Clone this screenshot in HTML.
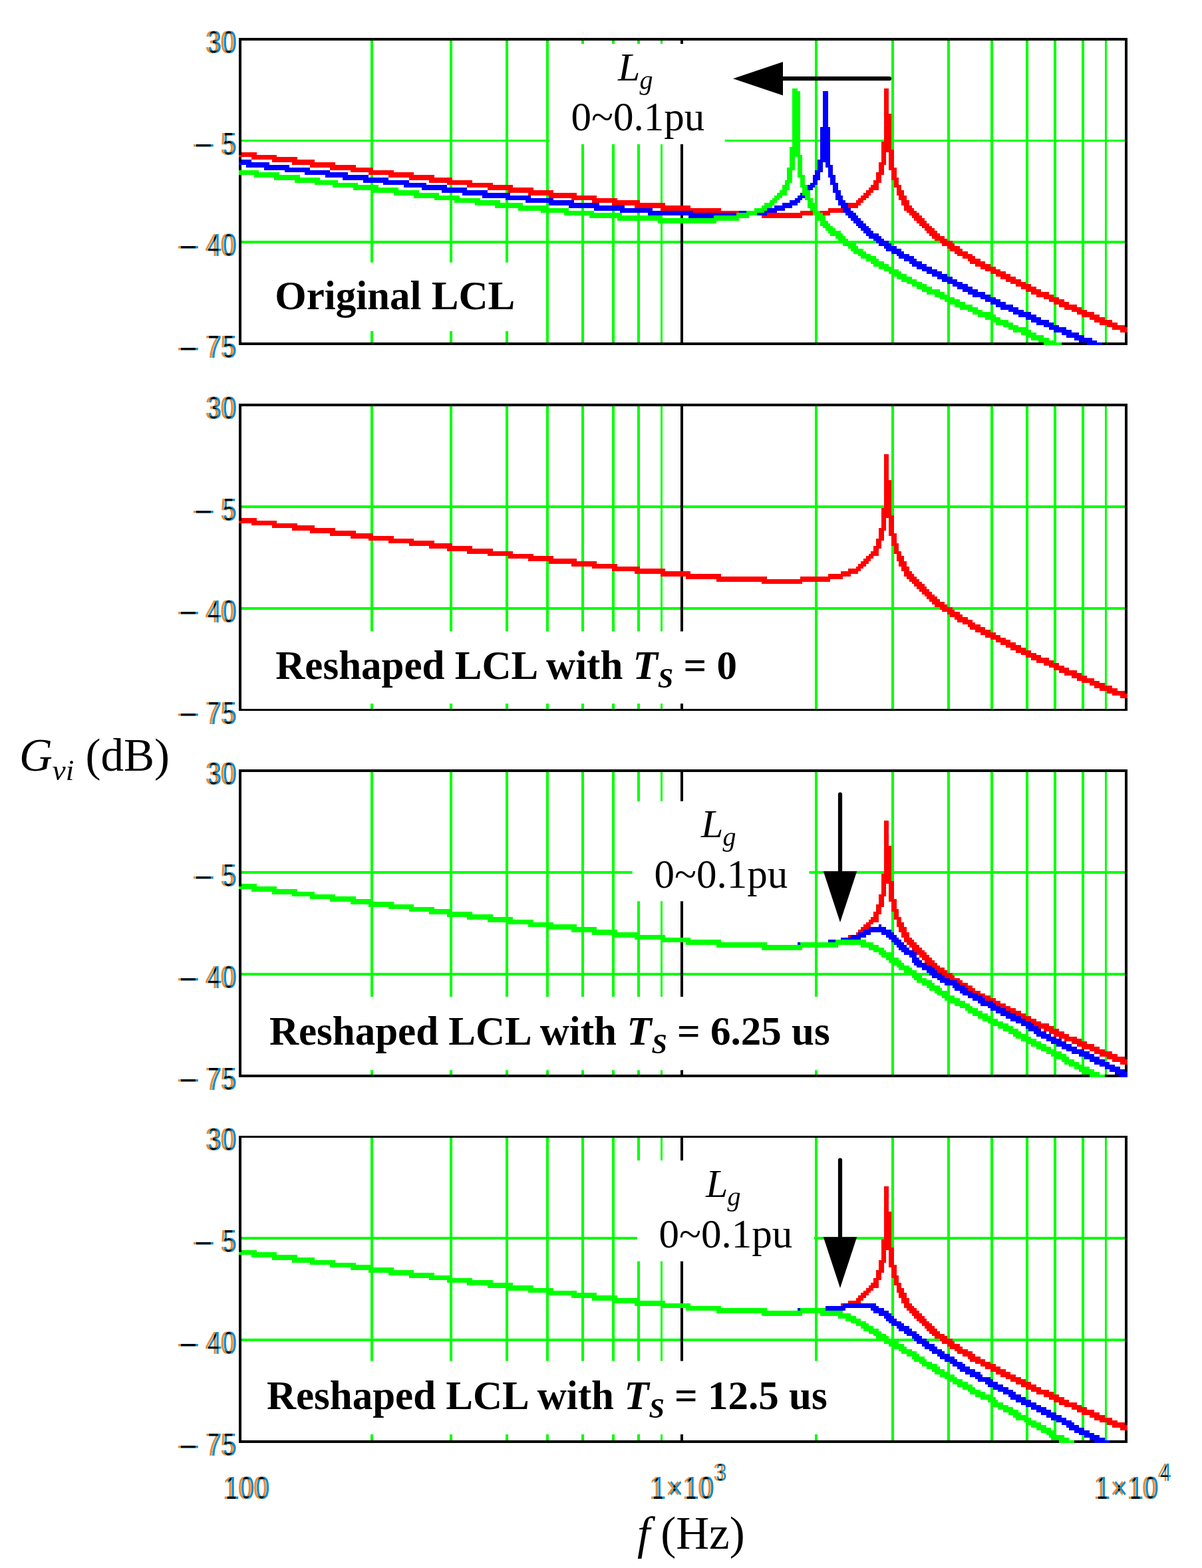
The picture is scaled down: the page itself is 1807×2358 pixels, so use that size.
<!DOCTYPE html>
<html lang="en"><head><meta charset="utf-8"><title>Gvi Bode magnitude plots</title><style>html,body{margin:0;padding:0;background:#fff}svg{display:block}</style></head><body><svg width="1807" height="2358" viewBox="0 0 1807 2358"><rect width="1807" height="2358" fill="#fff"/><defs><filter id="ct" x="-30%" y="-30%" width="160%" height="160%" color-interpolation-filters="sRGB"><feOffset in="SourceAlpha" dx="-2.5" result="a"/><feFlood flood-color="#f08c2c"/><feComposite operator="in" in2="a" result="oa"/><feOffset in="SourceAlpha" dx="2.5" result="b"/><feFlood flood-color="#008ee0"/><feComposite operator="in" in2="b" result="ob"/><feComposite operator="in" in="a" in2="b" result="k"/><feMerge><feMergeNode in="oa"/><feMergeNode in="ob"/><feMergeNode in="k"/></feMerge></filter><filter id="ctm" x="-30%" y="-30%" width="160%" height="160%" color-interpolation-filters="sRGB"><feOffset in="SourceAlpha" dx="-1.8" result="a"/><feFlood flood-color="#f08c2c"/><feComposite operator="in" in2="a" result="oa"/><feOffset in="SourceAlpha" dx="1.8" result="b"/><feFlood flood-color="#008ee0"/><feComposite operator="in" in2="b" result="ob"/><feComposite operator="in" in="a" in2="b" result="k"/><feMerge><feMergeNode in="oa"/><feMergeNode in="ob"/><feMergeNode in="k"/></feMerge></filter></defs><g shape-rendering="crispEdges">
<rect x="557" y="61" width="4" height="454" fill="#00ff00"/>
<rect x="676" y="61" width="4" height="454" fill="#00ff00"/>
<rect x="760" y="61" width="4" height="454" fill="#00ff00"/>
<rect x="821" y="61" width="4" height="454" fill="#00ff00"/>
<rect x="874" y="61" width="4" height="454" fill="#00ff00"/>
<rect x="920" y="61" width="4" height="454" fill="#00ff00"/>
<rect x="958" y="61" width="4" height="454" fill="#00ff00"/>
<rect x="993" y="61" width="3" height="454" fill="#00ff00"/>
<rect x="1023" y="61" width="4" height="454" fill="#000000"/>
<rect x="1225" y="61" width="4" height="454" fill="#00ff00"/>
<rect x="1340" y="61" width="4" height="454" fill="#00ff00"/>
<rect x="1424" y="61" width="4" height="454" fill="#00ff00"/>
<rect x="1489" y="61" width="4" height="454" fill="#00ff00"/>
<rect x="1542" y="61" width="4" height="454" fill="#00ff00"/>
<rect x="1584" y="61" width="4" height="454" fill="#00ff00"/>
<rect x="1626" y="61" width="4" height="454" fill="#00ff00"/>
<rect x="1661" y="61" width="3" height="454" fill="#00ff00"/>
<rect x="363" y="210" width="1328" height="3" fill="#00ff00"/>
<rect x="363" y="362" width="1328" height="4" fill="#00ff00"/>
<rect x="1023" y="61" width="4" height="454" fill="#000000"/>
<rect x="359" y="57" width="1336" height="4" fill="#000000"/>
<rect x="359" y="515" width="1336" height="4" fill="#000000"/>
<rect x="359" y="57" width="4" height="462" fill="#000000"/>
<rect x="1691" y="57" width="4" height="462" fill="#000000"/>
<path fill="#ff0000" d="M359 233h57v3h-57zM363 229h23v4h-23zM378 236h69v4h-69zM409 240h64v4h-64zM439 244h65v4h-65zM466 248h69v4h-69zM496 252h65v4h-65zM527 256h65v3h-65zM554 259h68v4h-68zM584 263h69v4h-69zM615 267h65v4h-65zM645 271h65v4h-65zM672 275h69v3h-69zM702 278h69v4h-69zM733 282h69v4h-69zM764 286h68v4h-68zM794 290h73v4h-73zM825 294h72v4h-72zM859 298h69v3h-69zM890 301h72v4h-72zM920 305h80v4h-80zM954 309h84v4h-84zM993 313h91v4h-91zM1031 317h122v3h-122zM1077 320h171v4h-171zM1145 324h61v4h-61zM1203 317h64v3h-64zM1245 313h34v4h-34zM1264 309h26v4h-26zM1275 305h19v4h-19zM1287 301h11v4h-11zM1290 298h12v3h-12zM1294 294h12v4h-12zM1298 290h11v4h-11zM1302 286h11v4h-11zM1306 282h15v4h-15zM1309 278h12v4h-12zM1313 275h8v3h-8zM1313 271h12v4h-12zM1317 263h8v8h-8zM1317 259h12v4h-12zM1321 248h8v11h-8zM1321 244h11v4h-11zM1325 229h7v15h-7zM1325 213h15v12h-15zM1325 225h19v4h-19zM1329 133h7v38h-7zM1329 171h11v42h-11zM1336 229h8v23h-8zM1336 252h12v4h-12zM1340 256h8v11h-8zM1340 267h11v4h-11zM1344 271h7v7h-7zM1344 278h11v4h-11zM1348 282h7v4h-7zM1348 286h11v8h-11zM1351 294h12v7h-12zM1355 301h12v8h-12zM1359 309h12v4h-12zM1359 313h15v4h-15zM1363 317h15v3h-15zM1367 320h15v4h-15zM1371 324h15v4h-15zM1374 328h16v4h-16zM1378 332h15v4h-15zM1382 336h15v4h-15zM1386 340h15v3h-15zM1390 343h15v4h-15zM1393 347h16v4h-16zM1397 351h16v4h-16zM1401 355h19v4h-19zM1405 359h19v3h-19zM1413 362h19v4h-19zM1416 366h19v4h-19zM1424 370h19v4h-19zM1428 374h19v4h-19zM1435 378h20v4h-20zM1439 382h23v3h-23zM1447 385h19v4h-19zM1455 389h19v4h-19zM1458 393h23v4h-23zM1466 397h23v4h-23zM1474 401h23v4h-23zM1481 405h23v3h-23zM1489 408h23v4h-23zM1497 412h22v4h-22zM1504 416h23v4h-23zM1512 420h23v4h-23zM1519 424h23v3h-23zM1527 427h23v4h-23zM1535 431h23v4h-23zM1542 435h23v4h-23zM1550 439h27v4h-27zM1558 443h26v4h-26zM1569 447h23v3h-23zM1577 450h23v4h-23zM1584 454h23v4h-23zM1592 458h27v4h-27zM1600 462h26v4h-26zM1611 466h23v3h-23zM1619 469h26v4h-26zM1626 473h27v4h-27zM1638 477h23v4h-23zM1645 481h27v4h-27zM1653 485h27v4h-27zM1664 489h27v3h-27zM1672 492h23v4h-23zM1684 496h11v4h-11z"/>
<path fill="#0000ff" d="M359 244h46v4h-46zM363 240h15v4h-15zM370 248h65v4h-65zM397 252h69v4h-69zM428 256h68v3h-68zM458 259h65v4h-65zM489 263h65v4h-65zM515 267h69v4h-69zM546 271h69v4h-69zM576 275h65v3h-65zM607 278h65v4h-65zM634 282h68v4h-68zM664 286h69v4h-69zM695 290h72v4h-72zM725 294h73v4h-73zM760 298h72v3h-72zM790 301h73v4h-73zM825 305h76v4h-76zM855 309h84v4h-84zM893 313h88v4h-88zM932 317h110v3h-110zM974 320h179v4h-179zM1035 324h80v4h-80zM1111 317h57v3h-57zM1149 313h31v4h-31zM1164 309h27v4h-27zM1176 305h23v4h-23zM1187 301h16v4h-16zM1195 298h11v3h-11zM1199 294h19v4h-19zM1203 290h15v4h-15zM1210 286h8v4h-8zM1210 282h12v4h-12zM1214 278h11v4h-11zM1218 275h11v3h-11zM1222 271h7v4h-7zM1222 263h11v8h-11zM1225 259h8v4h-8zM1225 256h12v3h-12zM1229 244h8v12h-8zM1229 240h19v4h-19zM1233 191h15v49h-15zM1237 137h8v54h-8zM1241 244h7v4h-7zM1241 248h11v4h-11zM1245 252h7v11h-7zM1245 263h11v4h-11zM1248 267h8v8h-8zM1248 275h12v3h-12zM1252 278h8v8h-8zM1252 286h12v4h-12zM1256 290h8v4h-8zM1256 294h11v7h-11zM1260 301h11v4h-11zM1260 305h15v4h-15zM1264 309h11v4h-11zM1267 313h12v4h-12zM1267 317h16v3h-16zM1271 320h16v4h-16zM1275 324h15v4h-15zM1279 328h15v4h-15zM1283 332h15v4h-15zM1287 336h15v4h-15zM1290 340h16v3h-16zM1294 343h15v4h-15zM1298 347h15v4h-15zM1302 351h19v4h-19zM1306 355h19v4h-19zM1313 359h16v3h-16zM1317 362h19v4h-19zM1321 366h19v4h-19zM1329 370h19v4h-19zM1332 374h23v4h-23zM1340 378h19v4h-19zM1348 382h19v3h-19zM1351 385h23v4h-23zM1359 389h19v4h-19zM1367 393h19v4h-19zM1371 397h22v4h-22zM1378 401h23v4h-23zM1386 405h23v3h-23zM1393 408h23v4h-23zM1401 412h23v4h-23zM1409 416h23v4h-23zM1416 420h23v4h-23zM1424 424h23v3h-23zM1432 427h23v4h-23zM1439 431h23v4h-23zM1447 435h23v4h-23zM1455 439h26v4h-26zM1462 443h27v4h-27zM1474 447h23v3h-23zM1481 450h23v4h-23zM1489 454h23v4h-23zM1497 458h26v4h-26zM1504 462h27v4h-27zM1516 466h23v3h-23zM1523 469h27v4h-27zM1531 473h27v4h-27zM1542 477h23v4h-23zM1550 481h27v4h-27zM1558 485h26v4h-26zM1569 489h23v3h-23zM1577 492h26v4h-26zM1584 496h27v4h-27zM1596 500h26v4h-26zM1603 504h27v4h-27zM1615 508h27v4h-27zM1622 512h27v3h-27zM1634 515h23v4h-23z"/>
<path fill="#00ff00" d="M359 256h30v3h-30zM359 259h61v4h-61zM382 263h69v4h-69zM412 267h69v4h-69zM443 271h65v4h-65zM473 275h65v3h-65zM500 278h69v4h-69zM531 282h68v4h-68zM561 286h69v4h-69zM592 290h68v4h-68zM622 294h69v4h-69zM653 298h69v3h-69zM683 301h69v4h-69zM714 305h72v4h-72zM744 309h77v4h-77zM779 313h76v4h-76zM813 317h80v3h-80zM848 320h87v4h-87zM886 324h110v4h-110zM928 328h183v4h-183zM989 332h88v4h-88zM1073 324h53v4h-53zM1107 320h31v4h-31zM1122 317h27v3h-27zM1134 313h19v4h-19zM1145 309h16v4h-16zM1149 305h15v4h-15zM1157 301h11v4h-11zM1161 298h11v3h-11zM1164 294h12v4h-12zM1168 290h15v4h-15zM1172 286h11v4h-11zM1176 278h11v8h-11zM1180 275h7v3h-7zM1180 271h11v4h-11zM1183 256h8v15h-8zM1183 252h12v4h-12zM1187 236h8v16h-8zM1187 221h16v12h-16zM1187 233h19v3h-19zM1191 133h8v4h-8zM1191 137h12v84h-12zM1199 236h7v27h-7zM1199 263h11v4h-11zM1203 267h7v11h-7zM1203 278h11v4h-11zM1206 282h8v4h-8zM1206 286h12v8h-12zM1210 294h8v4h-8zM1210 298h12v3h-12zM1214 301h8v4h-8zM1214 305h11v4h-11zM1214 309h15v4h-15zM1218 313h11v4h-11zM1222 317h11v3h-11zM1222 320h15v4h-15zM1225 324h16v4h-16zM1229 328h12v4h-12zM1233 332h12v4h-12zM1233 336h15v4h-15zM1237 340h15v3h-15zM1241 343h15v4h-15zM1245 347h19v4h-19zM1248 351h19v4h-19zM1256 355h15v4h-15zM1260 359h15v3h-15zM1264 362h19v4h-19zM1267 366h20v4h-20zM1275 370h15v4h-15zM1279 374h19v4h-19zM1283 378h19v4h-19zM1290 382h19v3h-19zM1294 385h23v4h-23zM1302 389h19v4h-19zM1309 393h20v4h-20zM1313 397h23v4h-23zM1321 401h23v4h-23zM1329 405h22v3h-22zM1336 408h19v4h-19zM1344 412h19v4h-19zM1348 416h23v4h-23zM1355 420h23v4h-23zM1363 424h23v3h-23zM1371 427h22v4h-22zM1378 431h23v4h-23zM1386 435h27v4h-27zM1393 439h27v4h-27zM1405 443h23v4h-23zM1413 447h22v3h-22zM1420 450h23v4h-23zM1428 454h23v4h-23zM1435 458h27v4h-27zM1443 462h27v4h-27zM1455 466h22v3h-22zM1462 469h27v4h-27zM1470 473h27v4h-27zM1481 477h23v4h-23zM1489 481h27v4h-27zM1497 485h26v4h-26zM1508 489h23v3h-23zM1516 492h26v4h-26zM1523 496h27v4h-27zM1535 500h23v4h-23zM1542 504h27v4h-27zM1550 508h27v4h-27zM1561 512h27v3h-27zM1569 515h27v4h-27z"/>
</g>
<g shape-rendering="crispEdges">
<rect x="557" y="611" width="4" height="455" fill="#00ff00"/>
<rect x="676" y="611" width="4" height="455" fill="#00ff00"/>
<rect x="760" y="611" width="4" height="455" fill="#00ff00"/>
<rect x="821" y="611" width="4" height="455" fill="#00ff00"/>
<rect x="874" y="611" width="4" height="455" fill="#00ff00"/>
<rect x="920" y="611" width="4" height="455" fill="#00ff00"/>
<rect x="958" y="611" width="4" height="455" fill="#00ff00"/>
<rect x="993" y="611" width="3" height="455" fill="#00ff00"/>
<rect x="1023" y="611" width="4" height="455" fill="#000000"/>
<rect x="1225" y="611" width="4" height="455" fill="#00ff00"/>
<rect x="1340" y="611" width="4" height="455" fill="#00ff00"/>
<rect x="1424" y="611" width="4" height="455" fill="#00ff00"/>
<rect x="1489" y="611" width="4" height="455" fill="#00ff00"/>
<rect x="1542" y="611" width="4" height="455" fill="#00ff00"/>
<rect x="1584" y="611" width="4" height="455" fill="#00ff00"/>
<rect x="1626" y="611" width="4" height="455" fill="#00ff00"/>
<rect x="1661" y="611" width="3" height="455" fill="#00ff00"/>
<rect x="363" y="760" width="1328" height="4" fill="#00ff00"/>
<rect x="363" y="913" width="1328" height="4" fill="#00ff00"/>
<rect x="1023" y="611" width="4" height="455" fill="#000000"/>
<rect x="359" y="607" width="1336" height="4" fill="#000000"/>
<rect x="359" y="1066" width="1336" height="3" fill="#000000"/>
<rect x="359" y="607" width="4" height="462" fill="#000000"/>
<rect x="1691" y="607" width="4" height="462" fill="#000000"/>
<path fill="#ff0000" d="M359 783h57v4h-57zM363 779h23v4h-23zM378 787h69v3h-69zM409 790h64v4h-64zM439 794h65v4h-65zM466 798h69v4h-69zM496 802h65v4h-65zM527 806h65v4h-65zM554 810h68v3h-68zM584 813h69v4h-69zM615 817h65v4h-65zM645 821h65v4h-65zM672 825h69v4h-69zM702 829h69v4h-69zM733 833h69v3h-69zM764 836h68v4h-68zM794 840h73v4h-73zM825 844h72v4h-72zM859 848h69v4h-69zM890 852h72v3h-72zM920 855h80v4h-80zM954 859h84v4h-84zM993 863h91v4h-91zM1031 867h122v4h-122zM1077 871h171v4h-171zM1145 875h61v3h-61zM1203 867h64v4h-64zM1245 863h34v4h-34zM1264 859h26v4h-26zM1275 855h19v4h-19zM1287 852h11v3h-11zM1290 848h12v4h-12zM1294 844h12v4h-12zM1298 840h11v4h-11zM1302 836h11v4h-11zM1306 833h15v3h-15zM1309 829h12v4h-12zM1313 825h8v4h-8zM1313 821h12v4h-12zM1317 813h8v8h-8zM1317 810h12v3h-12zM1321 798h8v12h-8zM1321 794h11v4h-11zM1325 779h7v15h-7zM1325 764h15v11h-15zM1325 775h19v4h-19zM1329 683h7v39h-7zM1329 722h11v42h-11zM1336 779h8v23h-8zM1336 802h12v4h-12zM1340 806h8v11h-8zM1340 817h11v4h-11zM1344 821h7v8h-7zM1344 829h11v4h-11zM1348 833h7v3h-7zM1348 836h11v8h-11zM1351 844h12v8h-12zM1355 852h12v7h-12zM1359 859h12v4h-12zM1359 863h15v4h-15zM1363 867h15v4h-15zM1367 871h15v4h-15zM1371 875h15v3h-15zM1374 878h16v4h-16zM1378 882h15v4h-15zM1382 886h15v4h-15zM1386 890h15v4h-15zM1390 894h15v3h-15zM1393 897h16v4h-16zM1397 901h16v4h-16zM1401 905h19v4h-19zM1405 909h19v4h-19zM1413 913h19v4h-19zM1416 917h19v3h-19zM1424 920h19v4h-19zM1428 924h19v4h-19zM1435 928h20v4h-20zM1439 932h23v4h-23zM1447 936h19v3h-19zM1455 939h19v4h-19zM1458 943h23v4h-23zM1466 947h23v4h-23zM1474 951h23v4h-23zM1481 955h23v4h-23zM1489 959h23v3h-23zM1497 962h22v4h-22zM1504 966h23v4h-23zM1512 970h23v4h-23zM1519 974h23v4h-23zM1527 978h23v4h-23zM1535 982h23v3h-23zM1542 985h23v4h-23zM1550 989h27v4h-27zM1558 993h26v4h-26zM1569 997h23v4h-23zM1577 1001h23v3h-23zM1584 1004h23v4h-23zM1592 1008h27v4h-27zM1600 1012h26v4h-26zM1611 1016h23v4h-23zM1619 1020h26v4h-26zM1626 1024h27v3h-27zM1638 1027h23v4h-23zM1645 1031h27v4h-27zM1653 1035h27v4h-27zM1664 1039h27v4h-27zM1672 1043h23v3h-23zM1684 1046h11v4h-11z"/>
</g>
<g shape-rendering="crispEdges">
<rect x="557" y="1161" width="4" height="455" fill="#00ff00"/>
<rect x="676" y="1161" width="4" height="455" fill="#00ff00"/>
<rect x="760" y="1161" width="4" height="455" fill="#00ff00"/>
<rect x="821" y="1161" width="4" height="455" fill="#00ff00"/>
<rect x="874" y="1161" width="4" height="455" fill="#00ff00"/>
<rect x="920" y="1161" width="4" height="455" fill="#00ff00"/>
<rect x="958" y="1161" width="4" height="455" fill="#00ff00"/>
<rect x="993" y="1161" width="3" height="455" fill="#00ff00"/>
<rect x="1023" y="1161" width="4" height="455" fill="#000000"/>
<rect x="1225" y="1161" width="4" height="455" fill="#00ff00"/>
<rect x="1340" y="1161" width="4" height="455" fill="#00ff00"/>
<rect x="1424" y="1161" width="4" height="455" fill="#00ff00"/>
<rect x="1489" y="1161" width="4" height="455" fill="#00ff00"/>
<rect x="1542" y="1161" width="4" height="455" fill="#00ff00"/>
<rect x="1584" y="1161" width="4" height="455" fill="#00ff00"/>
<rect x="1626" y="1161" width="4" height="455" fill="#00ff00"/>
<rect x="1661" y="1161" width="3" height="455" fill="#00ff00"/>
<rect x="363" y="1310" width="1328" height="4" fill="#00ff00"/>
<rect x="363" y="1463" width="1328" height="4" fill="#00ff00"/>
<rect x="1023" y="1161" width="4" height="455" fill="#000000"/>
<rect x="359" y="1157" width="1336" height="4" fill="#000000"/>
<rect x="359" y="1616" width="1336" height="4" fill="#000000"/>
<rect x="359" y="1157" width="4" height="463" fill="#000000"/>
<rect x="1691" y="1157" width="4" height="463" fill="#000000"/>
<path fill="#ff0000" d="M359 1333h57v4h-57zM363 1329h23v4h-23zM378 1337h69v4h-69zM409 1341h64v4h-64zM439 1345h65v3h-65zM466 1348h69v4h-69zM496 1352h65v4h-65zM527 1356h65v4h-65zM554 1360h68v4h-68zM584 1364h69v3h-69zM615 1367h65v4h-65zM645 1371h65v4h-65zM672 1375h69v4h-69zM702 1379h69v4h-69zM733 1383h69v4h-69zM764 1387h68v3h-68zM794 1390h73v4h-73zM825 1394h72v4h-72zM859 1398h69v4h-69zM890 1402h72v4h-72zM920 1406h80v4h-80zM954 1410h84v3h-84zM993 1413h91v4h-91zM1031 1417h122v4h-122zM1077 1421h171v4h-171zM1145 1425h61v4h-61zM1203 1417h64v4h-64zM1245 1413h34v4h-34zM1264 1410h26v3h-26zM1275 1406h19v4h-19zM1287 1402h11v4h-11zM1290 1398h12v4h-12zM1294 1394h12v4h-12zM1298 1390h11v4h-11zM1302 1387h11v3h-11zM1306 1383h15v4h-15zM1309 1379h12v4h-12zM1313 1375h8v4h-8zM1313 1371h12v4h-12zM1317 1364h8v7h-8zM1317 1360h12v4h-12zM1321 1348h8v12h-8zM1321 1345h11v3h-11zM1325 1329h7v16h-7zM1325 1314h15v11h-15zM1325 1325h19v4h-19zM1329 1234h7v38h-7zM1329 1272h11v42h-11zM1336 1329h8v23h-8zM1336 1352h12v4h-12zM1340 1356h8v11h-8zM1340 1367h11v4h-11zM1344 1371h7v8h-7zM1344 1379h11v4h-11zM1348 1383h7v4h-7zM1348 1387h11v7h-11zM1351 1394h12v8h-12zM1355 1402h12v8h-12zM1359 1410h12v3h-12zM1359 1413h15v4h-15zM1363 1417h15v4h-15zM1367 1421h15v4h-15zM1371 1425h15v4h-15zM1374 1429h16v3h-16zM1378 1432h15v4h-15zM1382 1436h15v4h-15zM1386 1440h15v4h-15zM1390 1444h15v4h-15zM1393 1448h16v4h-16zM1397 1452h16v3h-16zM1401 1455h19v4h-19zM1405 1459h19v4h-19zM1413 1463h19v4h-19zM1416 1467h19v4h-19zM1424 1471h19v3h-19zM1428 1474h19v4h-19zM1435 1478h20v4h-20zM1439 1482h23v4h-23zM1447 1486h19v4h-19zM1455 1490h19v4h-19zM1458 1494h23v3h-23zM1466 1497h23v4h-23zM1474 1501h23v4h-23zM1481 1505h23v4h-23zM1489 1509h23v4h-23zM1497 1513h22v3h-22zM1504 1516h23v4h-23zM1512 1520h23v4h-23zM1519 1524h23v4h-23zM1527 1528h23v4h-23zM1535 1532h23v4h-23zM1542 1536h23v3h-23zM1550 1539h27v4h-27zM1558 1543h26v4h-26zM1569 1547h23v4h-23zM1577 1551h23v4h-23zM1584 1555h23v4h-23zM1592 1559h27v3h-27zM1600 1562h26v4h-26zM1611 1566h23v4h-23zM1619 1570h26v4h-26zM1626 1574h27v4h-27zM1638 1578h23v3h-23zM1645 1581h27v4h-27zM1653 1585h27v4h-27zM1664 1589h27v4h-27zM1672 1593h23v4h-23zM1684 1597h11v4h-11z"/>
<path fill="#0000ff" d="M359 1333h57v4h-57zM363 1329h23v4h-23zM378 1337h69v4h-69zM409 1341h64v4h-64zM439 1345h65v3h-65zM466 1348h69v4h-69zM496 1352h65v4h-65zM527 1356h65v4h-65zM554 1360h68v4h-68zM584 1364h69v3h-69zM615 1367h65v4h-65zM645 1371h65v4h-65zM672 1375h69v4h-69zM702 1379h69v4h-69zM733 1383h69v4h-69zM764 1387h68v3h-68zM794 1390h73v4h-73zM825 1394h72v4h-72zM859 1398h69v4h-69zM890 1402h72v4h-72zM920 1406h80v4h-80zM954 1410h84v3h-84zM993 1413h91v4h-91zM1031 1417h122v4h-122zM1077 1421h171v4h-171zM1145 1425h58v4h-58zM1199 1417h68v4h-68zM1245 1413h38v4h-38zM1264 1410h30v3h-30zM1279 1406h23v4h-23zM1290 1402h19v4h-19zM1298 1398h42v4h-42zM1306 1394h26v4h-26zM1321 1390h4v4h-4zM1325 1402h19v4h-19zM1332 1406h16v4h-16zM1336 1410h15v3h-15zM1340 1413h15v4h-15zM1344 1417h15v4h-15zM1348 1421h15v4h-15zM1351 1425h16v4h-16zM1355 1429h19v3h-19zM1359 1432h19v4h-19zM1367 1436h11v4h-11zM1371 1440h11v4h-11zM1371 1444h15v4h-15zM1374 1448h19v4h-19zM1378 1452h23v3h-23zM1386 1455h19v4h-19zM1393 1459h16v4h-16zM1397 1463h19v4h-19zM1401 1467h19v4h-19zM1409 1471h19v3h-19zM1413 1474h26v4h-26zM1420 1478h23v4h-23zM1432 1482h19v4h-19zM1435 1486h20v4h-20zM1443 1490h19v4h-19zM1447 1494h23v3h-23zM1455 1497h22v4h-22zM1462 1501h19v4h-19zM1470 1505h23v4h-23zM1474 1509h23v4h-23zM1485 1513h19v3h-19zM1489 1516h23v4h-23zM1497 1520h22v4h-22zM1504 1524h23v4h-23zM1512 1528h23v4h-23zM1519 1532h23v4h-23zM1527 1536h23v3h-23zM1535 1539h19v4h-19zM1542 1543h19v4h-19zM1546 1547h19v4h-19zM1554 1551h19v4h-19zM1558 1555h22v4h-22zM1565 1559h23v3h-23zM1573 1562h23v4h-23zM1580 1566h23v4h-23zM1588 1570h23v4h-23zM1596 1574h23v4h-23zM1603 1578h27v3h-27zM1611 1581h27v4h-27zM1622 1585h23v4h-23zM1630 1589h23v4h-23zM1638 1593h23v4h-23zM1645 1597h23v4h-23zM1653 1601h23v3h-23zM1661 1604h23v4h-23zM1668 1608h23v4h-23zM1676 1612h19v4h-19zM1684 1616h11v4h-11z"/>
<path fill="#00ff00" d="M359 1333h57v4h-57zM363 1329h23v4h-23zM378 1337h69v4h-69zM409 1341h64v4h-64zM439 1345h65v3h-65zM466 1348h69v4h-69zM496 1352h65v4h-65zM527 1356h65v4h-65zM554 1360h68v4h-68zM584 1364h69v3h-69zM615 1367h65v4h-65zM645 1371h65v4h-65zM672 1375h69v4h-69zM702 1379h69v4h-69zM733 1383h69v4h-69zM764 1387h68v3h-68zM794 1390h73v4h-73zM825 1394h72v4h-72zM859 1398h69v4h-69zM890 1402h72v4h-72zM920 1406h80v4h-80zM954 1410h84v3h-84zM993 1413h91v4h-91zM1031 1417h122v4h-122zM1077 1421h183v4h-183zM1145 1425h61v4h-61zM1203 1417h110v4h-110zM1256 1413h46v4h-46zM1294 1421h27v4h-27zM1306 1425h23v4h-23zM1313 1429h19v3h-19zM1321 1432h19v4h-19zM1325 1436h19v4h-19zM1332 1440h19v4h-19zM1336 1444h19v4h-19zM1344 1448h15v4h-15zM1348 1452h19v3h-19zM1351 1455h20v4h-20zM1359 1459h19v4h-19zM1363 1463h19v4h-19zM1371 1467h15v4h-15zM1374 1471h19v3h-19zM1378 1474h23v4h-23zM1386 1478h19v4h-19zM1393 1482h20v4h-20zM1397 1486h19v4h-19zM1405 1490h19v4h-19zM1409 1494h19v3h-19zM1416 1497h19v4h-19zM1420 1501h23v4h-23zM1428 1505h23v4h-23zM1435 1509h23v4h-23zM1443 1513h19v3h-19zM1451 1516h19v4h-19zM1455 1520h22v4h-22zM1462 1524h23v4h-23zM1470 1528h23v4h-23zM1477 1532h23v4h-23zM1485 1536h23v3h-23zM1493 1539h23v4h-23zM1500 1543h23v4h-23zM1508 1547h23v4h-23zM1516 1551h19v4h-19zM1523 1555h19v4h-19zM1527 1559h23v3h-23zM1535 1562h23v4h-23zM1542 1566h23v4h-23zM1550 1570h23v4h-23zM1558 1574h22v4h-22zM1565 1578h23v3h-23zM1573 1581h23v4h-23zM1580 1585h23v4h-23zM1588 1589h19v4h-19zM1596 1593h19v4h-19zM1600 1597h22v4h-22zM1607 1601h23v3h-23zM1615 1604h23v4h-23zM1622 1608h23v4h-23zM1630 1612h23v4h-23zM1638 1616h23v4h-23z"/>
</g>
<g shape-rendering="crispEdges">
<rect x="557" y="1711" width="4" height="455" fill="#00ff00"/>
<rect x="676" y="1711" width="4" height="455" fill="#00ff00"/>
<rect x="760" y="1711" width="4" height="455" fill="#00ff00"/>
<rect x="821" y="1711" width="4" height="455" fill="#00ff00"/>
<rect x="874" y="1711" width="4" height="455" fill="#00ff00"/>
<rect x="920" y="1711" width="4" height="455" fill="#00ff00"/>
<rect x="958" y="1711" width="4" height="455" fill="#00ff00"/>
<rect x="993" y="1711" width="3" height="455" fill="#00ff00"/>
<rect x="1023" y="1711" width="4" height="455" fill="#000000"/>
<rect x="1225" y="1711" width="4" height="455" fill="#00ff00"/>
<rect x="1340" y="1711" width="4" height="455" fill="#00ff00"/>
<rect x="1424" y="1711" width="4" height="455" fill="#00ff00"/>
<rect x="1489" y="1711" width="4" height="455" fill="#00ff00"/>
<rect x="1542" y="1711" width="4" height="455" fill="#00ff00"/>
<rect x="1584" y="1711" width="4" height="455" fill="#00ff00"/>
<rect x="1626" y="1711" width="4" height="455" fill="#00ff00"/>
<rect x="1661" y="1711" width="3" height="455" fill="#00ff00"/>
<rect x="363" y="1860" width="1328" height="4" fill="#00ff00"/>
<rect x="363" y="2013" width="1328" height="4" fill="#00ff00"/>
<rect x="1023" y="1711" width="4" height="455" fill="#000000"/>
<rect x="359" y="1708" width="1336" height="3" fill="#000000"/>
<rect x="359" y="2166" width="1336" height="4" fill="#000000"/>
<rect x="359" y="1708" width="4" height="462" fill="#000000"/>
<rect x="1691" y="1708" width="4" height="462" fill="#000000"/>
<path fill="#ff0000" d="M359 1883h57v4h-57zM363 1880h23v3h-23zM378 1887h69v4h-69zM409 1891h64v4h-64zM439 1895h65v4h-65zM466 1899h69v3h-69zM496 1902h65v4h-65zM527 1906h65v4h-65zM554 1910h68v4h-68zM584 1914h69v4h-69zM615 1918h65v4h-65zM645 1922h65v3h-65zM672 1925h69v4h-69zM702 1929h69v4h-69zM733 1933h69v4h-69zM764 1937h68v4h-68zM794 1941h73v3h-73zM825 1944h72v4h-72zM859 1948h69v4h-69zM890 1952h72v4h-72zM920 1956h80v4h-80zM954 1960h84v4h-84zM993 1964h91v3h-91zM1031 1967h122v4h-122zM1077 1971h171v4h-171zM1145 1975h61v4h-61zM1203 1967h64v4h-64zM1245 1964h34v3h-34zM1264 1960h26v4h-26zM1275 1956h19v4h-19zM1287 1952h11v4h-11zM1290 1948h12v4h-12zM1294 1944h12v4h-12zM1298 1941h11v3h-11zM1302 1937h11v4h-11zM1306 1933h15v4h-15zM1309 1929h12v4h-12zM1313 1925h8v4h-8zM1313 1922h12v3h-12zM1317 1914h8v8h-8zM1317 1910h12v4h-12zM1321 1899h8v11h-8zM1321 1895h11v4h-11zM1325 1880h7v15h-7zM1325 1864h15v12h-15zM1325 1876h19v4h-19zM1329 1784h7v38h-7zM1329 1822h11v42h-11zM1336 1880h8v22h-8zM1336 1902h12v4h-12zM1340 1906h8v12h-8zM1340 1918h11v4h-11zM1344 1922h7v7h-7zM1344 1929h11v4h-11zM1348 1933h7v4h-7zM1348 1937h11v7h-11zM1351 1944h12v8h-12zM1355 1952h12v8h-12zM1359 1960h12v4h-12zM1359 1964h15v3h-15zM1363 1967h15v4h-15zM1367 1971h15v4h-15zM1371 1975h15v4h-15zM1374 1979h16v4h-16zM1378 1983h15v4h-15zM1382 1987h15v3h-15zM1386 1990h15v4h-15zM1390 1994h15v4h-15zM1393 1998h16v4h-16zM1397 2002h16v4h-16zM1401 2006h19v3h-19zM1405 2009h19v4h-19zM1413 2013h19v4h-19zM1416 2017h19v4h-19zM1424 2021h19v4h-19zM1428 2025h19v4h-19zM1435 2029h20v3h-20zM1439 2032h23v4h-23zM1447 2036h19v4h-19zM1455 2040h19v4h-19zM1458 2044h23v4h-23zM1466 2048h23v3h-23zM1474 2051h23v4h-23zM1481 2055h23v4h-23zM1489 2059h23v4h-23zM1497 2063h22v4h-22zM1504 2067h23v4h-23zM1512 2071h23v3h-23zM1519 2074h23v4h-23zM1527 2078h23v4h-23zM1535 2082h23v4h-23zM1542 2086h23v4h-23zM1550 2090h27v3h-27zM1558 2093h26v4h-26zM1569 2097h23v4h-23zM1577 2101h23v4h-23zM1584 2105h23v4h-23zM1592 2109h27v4h-27zM1600 2113h26v3h-26zM1611 2116h23v4h-23zM1619 2120h26v4h-26zM1626 2124h27v4h-27zM1638 2128h23v4h-23zM1645 2132h27v4h-27zM1653 2136h27v3h-27zM1664 2139h27v4h-27zM1672 2143h23v4h-23zM1684 2147h11v4h-11z"/>
<path fill="#0000ff" d="M359 1883h57v4h-57zM363 1880h23v3h-23zM378 1887h69v4h-69zM409 1891h64v4h-64zM439 1895h65v4h-65zM466 1899h69v3h-69zM496 1902h65v4h-65zM527 1906h65v4h-65zM554 1910h68v4h-68zM584 1914h69v4h-69zM615 1918h65v4h-65zM645 1922h65v3h-65zM672 1925h69v4h-69zM702 1929h69v4h-69zM733 1933h69v4h-69zM764 1937h68v4h-68zM794 1941h73v3h-73zM825 1944h72v4h-72zM859 1948h69v4h-69zM890 1952h72v4h-72zM920 1956h80v4h-80zM954 1960h84v4h-84zM993 1964h91v3h-91zM1031 1967h122v4h-122zM1077 1971h168v4h-168zM1145 1975h58v4h-58zM1199 1967h72v4h-72zM1241 1964h80v3h-80zM1267 1960h50v4h-50zM1309 1967h20v4h-20zM1313 1971h23v4h-23zM1321 1975h19v4h-19zM1329 1979h15v4h-15zM1332 1983h16v4h-16zM1336 1987h19v3h-19zM1340 1990h19v4h-19zM1348 1994h19v4h-19zM1351 1998h20v4h-20zM1359 2002h19v4h-19zM1363 2006h19v3h-19zM1371 2009h15v4h-15zM1374 2013h19v4h-19zM1378 2017h19v4h-19zM1386 2021h19v4h-19zM1390 2025h19v4h-19zM1397 2029h19v3h-19zM1401 2032h19v4h-19zM1409 2036h19v4h-19zM1413 2040h22v4h-22zM1420 2044h19v4h-19zM1428 2048h19v3h-19zM1432 2051h19v4h-19zM1439 2055h19v4h-19zM1443 2059h23v4h-23zM1451 2063h23v4h-23zM1458 2067h19v4h-19zM1466 2071h23v3h-23zM1470 2074h23v4h-23zM1481 2078h19v4h-19zM1485 2082h23v4h-23zM1493 2086h23v4h-23zM1500 2090h23v3h-23zM1508 2093h19v4h-19zM1516 2097h19v4h-19zM1519 2101h23v4h-23zM1527 2105h23v4h-23zM1535 2109h23v4h-23zM1542 2113h23v3h-23zM1550 2116h23v4h-23zM1558 2120h22v4h-22zM1565 2124h23v4h-23zM1573 2128h23v4h-23zM1580 2132h23v4h-23zM1588 2136h23v3h-23zM1596 2139h19v4h-19zM1603 2143h19v4h-19zM1607 2147h23v4h-23zM1615 2151h23v4h-23zM1622 2155h23v3h-23zM1630 2158h23v4h-23zM1638 2162h23v4h-23zM1645 2166h23v4h-23z"/>
<path fill="#00ff00" d="M359 1883h57v4h-57zM363 1880h23v3h-23zM378 1887h69v4h-69zM409 1891h64v4h-64zM439 1895h65v4h-65zM466 1899h69v3h-69zM496 1902h65v4h-65zM527 1906h65v4h-65zM554 1910h68v4h-68zM584 1914h69v4h-69zM615 1918h65v4h-65zM645 1922h65v3h-65zM672 1925h69v4h-69zM702 1929h69v4h-69zM733 1933h69v4h-69zM764 1937h68v4h-68zM794 1941h73v3h-73zM825 1944h72v4h-72zM859 1948h69v4h-69zM890 1952h72v4h-72zM920 1956h80v4h-80zM954 1960h84v4h-84zM993 1964h91v3h-91zM1031 1967h122v4h-122zM1077 1971h190v4h-190zM1145 1975h61v4h-61zM1203 1967h38v4h-38zM1233 1975h46v4h-46zM1260 1979h27v4h-27zM1271 1983h23v4h-23zM1279 1987h23v3h-23zM1287 1990h19v4h-19zM1294 1994h19v4h-19zM1298 1998h23v4h-23zM1306 2002h19v4h-19zM1313 2006h19v3h-19zM1317 2009h19v4h-19zM1325 2013h19v4h-19zM1329 2017h22v4h-22zM1336 2021h23v4h-23zM1344 2025h19v4h-19zM1351 2029h20v3h-20zM1355 2032h23v4h-23zM1363 2036h19v4h-19zM1371 2040h19v4h-19zM1374 2044h19v4h-19zM1382 2048h19v3h-19zM1386 2051h23v4h-23zM1393 2055h20v4h-20zM1401 2059h19v4h-19zM1405 2063h23v4h-23zM1413 2067h22v4h-22zM1420 2071h19v3h-19zM1428 2074h19v4h-19zM1432 2078h23v4h-23zM1439 2082h23v4h-23zM1447 2086h19v4h-19zM1455 2090h19v3h-19zM1458 2093h23v4h-23zM1466 2097h27v4h-27zM1474 2101h23v4h-23zM1485 2105h15v4h-15zM1489 2109h19v4h-19zM1493 2113h23v3h-23zM1500 2116h23v4h-23zM1508 2120h23v4h-23zM1516 2124h19v4h-19zM1523 2128h23v4h-23zM1527 2132h23v4h-23zM1539 2136h19v3h-19zM1542 2139h23v4h-23zM1550 2143h23v4h-23zM1558 2147h22v4h-22zM1565 2151h19v4h-19zM1573 2155h15v3h-15zM1577 2158h23v4h-23zM1580 2162h27v4h-27zM1592 2166h23v4h-23z"/>
</g>
<rect x="825.8" y="66.0" width="263.9" height="150.8" fill="#fff"/>
<rect x="380.0" y="394.7" width="420.0" height="103.2" fill="#fff"/>
<rect x="380.0" y="949.5" width="750.0" height="108.6" fill="#fff"/>
<rect x="950.7" y="1204.9" width="265.8" height="150.4" fill="#fff"/>
<rect x="380.0" y="1499.0" width="910.0" height="110.3" fill="#fff"/>
<rect x="958.0" y="1745.2" width="265.9" height="151.6" fill="#fff"/>
<rect x="380.0" y="2046.7" width="910.0" height="110.3" fill="#fff"/>
<text x="413.2" y="465.2" font-size="61.0" font-family="'Liberation Serif','Times New Roman',serif" text-anchor="start" font-weight="bold">Original LCL</text>
<text x="414.3" y="1021.4" font-size="61.0" font-family="'Liberation Serif','Times New Roman',serif" text-anchor="start" font-weight="bold">Reshaped LCL with <tspan font-weight="bold" font-style="italic">T</tspan><tspan font-weight="bold" font-style="italic" font-size="42" dy="13">S</tspan><tspan dy="-13"> = 0</tspan></text>
<text x="404.9" y="1570.5" font-size="61.0" font-family="'Liberation Serif','Times New Roman',serif" text-anchor="start" font-weight="bold">Reshaped LCL with <tspan font-weight="bold" font-style="italic">T</tspan><tspan font-weight="bold" font-style="italic" font-size="42" dy="13">S</tspan><tspan dy="-13"> = 6.25 us</tspan></text>
<text x="400.9" y="2118.5" font-size="61.0" font-family="'Liberation Serif','Times New Roman',serif" text-anchor="start" font-weight="bold">Reshaped LCL with <tspan font-weight="bold" font-style="italic">T</tspan><tspan font-weight="bold" font-style="italic" font-size="42" dy="13">S</tspan><tspan dy="-13"> = 12.5 us</tspan></text>
<text x="929.0" y="121.0" font-size="60" font-family="'Liberation Serif','Times New Roman',serif" font-style="italic">L<tspan font-size="40" dy="13" dx="-1">g</tspan></text>
<text x="959.0" y="196.0" font-size="61.0" font-family="'Liberation Serif','Times New Roman',serif" text-anchor="middle" >0~0.1pu</text>
<text x="1054.0" y="1259.0" font-size="60" font-family="'Liberation Serif','Times New Roman',serif" font-style="italic">L<tspan font-size="40" dy="13" dx="-1">g</tspan></text>
<text x="1084.0" y="1335.0" font-size="61.0" font-family="'Liberation Serif','Times New Roman',serif" text-anchor="middle" >0~0.1pu</text>
<text x="1061.0" y="1800.0" font-size="60" font-family="'Liberation Serif','Times New Roman',serif" font-style="italic">L<tspan font-size="40" dy="13" dx="-1">g</tspan></text>
<text x="1091.0" y="1876.0" font-size="61.0" font-family="'Liberation Serif','Times New Roman',serif" text-anchor="middle" >0~0.1pu</text>
<text x="29" y="1159" font-size="69" font-family="'Liberation Serif','Times New Roman',serif"><tspan font-style="italic">G</tspan><tspan font-style="italic" font-size="45" dy="14">vi</tspan><tspan dy="-14"> (dB)</tspan></text>
<text x="958" y="2328.8" font-size="69" font-family="'Liberation Serif','Times New Roman',serif"><tspan font-style="italic">f</tspan><tspan dx="-1.2"> (Hz)</tspan></text>
<path d="M1102 118.2L1177 93V115.1H1337a3.1 3.1 0 0 1 0 6.2H1177V143.4z" fill="#000"/>
<path d="M1263 1387L1237.8 1310.2H1259.9V1194.5a3.1 3.1 0 0 1 6.2 0V1310.2H1288.2z" fill="#000"/>
<path d="M1263 1937L1237.8 1860.2H1259.9V1744.5a3.1 3.1 0 0 1 6.2 0V1860.2H1288.2z" fill="#000"/>
<text transform="translate(0,80.0) scale(0.7900,1)" x="392.68 421.67" y="0" font-size="48.4" font-family="'Liberation Sans',Arial,sans-serif" fill="#000" filter="url(#ct)">30</text>
<text transform="translate(290.2,234.5) scale(1.100,1)" font-size="48.4" font-family="'Liberation Sans',Arial,sans-serif" fill="#000" filter="url(#ctm)">−</text>
<text transform="translate(0,233.0) scale(0.7900,1)" x="421.67" y="0" font-size="48.4" font-family="'Liberation Sans',Arial,sans-serif" fill="#000" filter="url(#ct)">5</text>
<text transform="translate(267.3,387.5) scale(1.100,1)" font-size="48.4" font-family="'Liberation Sans',Arial,sans-serif" fill="#000" filter="url(#ctm)">−</text>
<text transform="translate(0,385.0) scale(0.7900,1)" x="392.68 421.67" y="0" font-size="48.4" font-family="'Liberation Sans',Arial,sans-serif" fill="#000" filter="url(#ct)">40</text>
<text transform="translate(267.3,540.5) scale(1.100,1)" font-size="48.4" font-family="'Liberation Sans',Arial,sans-serif" fill="#000" filter="url(#ctm)">−</text>
<text transform="translate(0,538.0) scale(0.7900,1)" x="392.68 421.67" y="0" font-size="48.4" font-family="'Liberation Sans',Arial,sans-serif" fill="#000" filter="url(#ct)">75</text>
<text transform="translate(0,630.0) scale(0.7900,1)" x="392.68 421.67" y="0" font-size="48.4" font-family="'Liberation Sans',Arial,sans-serif" fill="#000" filter="url(#ct)">30</text>
<text transform="translate(290.2,785.5) scale(1.100,1)" font-size="48.4" font-family="'Liberation Sans',Arial,sans-serif" fill="#000" filter="url(#ctm)">−</text>
<text transform="translate(0,783.0) scale(0.7900,1)" x="421.67" y="0" font-size="48.4" font-family="'Liberation Sans',Arial,sans-serif" fill="#000" filter="url(#ct)">5</text>
<text transform="translate(267.3,937.5) scale(1.100,1)" font-size="48.4" font-family="'Liberation Sans',Arial,sans-serif" fill="#000" filter="url(#ctm)">−</text>
<text transform="translate(0,936.0) scale(0.7900,1)" x="392.68 421.67" y="0" font-size="48.4" font-family="'Liberation Sans',Arial,sans-serif" fill="#000" filter="url(#ct)">40</text>
<text transform="translate(267.3,1090.5) scale(1.100,1)" font-size="48.4" font-family="'Liberation Sans',Arial,sans-serif" fill="#000" filter="url(#ctm)">−</text>
<text transform="translate(0,1089.0) scale(0.7900,1)" x="392.68 421.67" y="0" font-size="48.4" font-family="'Liberation Sans',Arial,sans-serif" fill="#000" filter="url(#ct)">75</text>
<text transform="translate(0,1180.0) scale(0.7900,1)" x="392.68 421.67" y="0" font-size="48.4" font-family="'Liberation Sans',Arial,sans-serif" fill="#000" filter="url(#ct)">30</text>
<text transform="translate(290.2,1335.5) scale(1.100,1)" font-size="48.4" font-family="'Liberation Sans',Arial,sans-serif" fill="#000" filter="url(#ctm)">−</text>
<text transform="translate(0,1333.0) scale(0.7900,1)" x="421.67" y="0" font-size="48.4" font-family="'Liberation Sans',Arial,sans-serif" fill="#000" filter="url(#ct)">5</text>
<text transform="translate(267.3,1488.5) scale(1.100,1)" font-size="48.4" font-family="'Liberation Sans',Arial,sans-serif" fill="#000" filter="url(#ctm)">−</text>
<text transform="translate(0,1486.0) scale(0.7900,1)" x="392.68 421.67" y="0" font-size="48.4" font-family="'Liberation Sans',Arial,sans-serif" fill="#000" filter="url(#ct)">40</text>
<text transform="translate(267.3,1640.5) scale(1.100,1)" font-size="48.4" font-family="'Liberation Sans',Arial,sans-serif" fill="#000" filter="url(#ctm)">−</text>
<text transform="translate(0,1639.0) scale(0.7900,1)" x="392.68 421.67" y="0" font-size="48.4" font-family="'Liberation Sans',Arial,sans-serif" fill="#000" filter="url(#ct)">75</text>
<text transform="translate(0,1730.0) scale(0.7900,1)" x="392.68 421.67" y="0" font-size="48.4" font-family="'Liberation Sans',Arial,sans-serif" fill="#000" filter="url(#ct)">30</text>
<text transform="translate(290.2,1885.5) scale(1.100,1)" font-size="48.4" font-family="'Liberation Sans',Arial,sans-serif" fill="#000" filter="url(#ctm)">−</text>
<text transform="translate(0,1883.0) scale(0.7900,1)" x="421.67" y="0" font-size="48.4" font-family="'Liberation Sans',Arial,sans-serif" fill="#000" filter="url(#ct)">5</text>
<text transform="translate(267.3,2038.5) scale(1.100,1)" font-size="48.4" font-family="'Liberation Sans',Arial,sans-serif" fill="#000" filter="url(#ctm)">−</text>
<text transform="translate(0,2036.0) scale(0.7900,1)" x="392.68 421.67" y="0" font-size="48.4" font-family="'Liberation Sans',Arial,sans-serif" fill="#000" filter="url(#ct)">40</text>
<text transform="translate(267.3,2191.5) scale(1.100,1)" font-size="48.4" font-family="'Liberation Sans',Arial,sans-serif" fill="#000" filter="url(#ctm)">−</text>
<text transform="translate(0,2189.0) scale(0.7900,1)" x="392.68 421.67" y="0" font-size="48.4" font-family="'Liberation Sans',Arial,sans-serif" fill="#000" filter="url(#ct)">75</text>
<text transform="translate(0,2253.9) scale(0.7900,1)" x="426.22 455.21 484.20" y="0" font-size="48.4" font-family="'Liberation Sans',Arial,sans-serif" fill="#000" filter="url(#ct)">100</text>
<text transform="translate(0,2253.9) scale(0.7900,1)" x="1237.87 1269.39 1301.03 1330.02" y="0" font-size="48.4" font-family="'Liberation Sans',Arial,sans-serif" fill="#000" filter="url(#ct)">1×10</text>
<text transform="translate(1074.3,2226.9) scale(0.7900,1)" font-size="37.4" font-family="'Liberation Sans',Arial,sans-serif" fill="#000" filter="url(#ct)">3</text>
<text transform="translate(0,2253.9) scale(0.7900,1)" x="2083.57 2115.08 2146.73 2175.72" y="0" font-size="48.4" font-family="'Liberation Sans',Arial,sans-serif" fill="#000" filter="url(#ct)">1×10</text>
<text transform="translate(1742.4,2226.9) scale(0.7900,1)" font-size="37.4" font-family="'Liberation Sans',Arial,sans-serif" fill="#000" filter="url(#ct)">4</text></svg></body></html>
